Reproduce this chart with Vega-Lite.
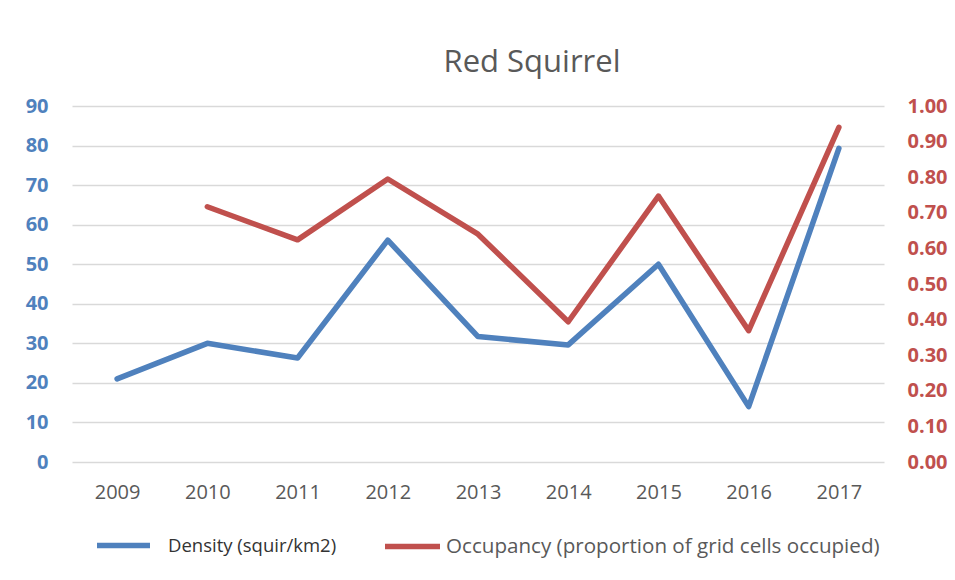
{
  "$schema": "https://vega.github.io/schema/vega-lite/v6.json",
  "autosize": "none",
  "width": 812,
  "height": 356,
  "padding": {"left": 72, "top": 106, "right": 71, "bottom": 118},
  "background": "white",
  "config": {
    "view": {"stroke": null},
    "font": "Open Sans"
  },
  "title": {
    "text": "Red Squirrel",
    "font": "Open Sans",
    "fontSize": 31,
    "fontWeight": "normal",
    "color": "#595959",
    "anchor": "middle",
    "dx": 54,
    "offset": 17
  },
  "data": {
    "values": [
      {"year": "2009", "density": 21.0, "occupancy": null},
      {"year": "2010", "density": 30.0, "occupancy": 0.717},
      {"year": "2011", "density": 26.3, "occupancy": 0.624},
      {"year": "2012", "density": 56.1, "occupancy": 0.795},
      {"year": "2013", "density": 31.7, "occupancy": 0.640},
      {"year": "2014", "density": 29.6, "occupancy": 0.394},
      {"year": "2015", "density": 50.0, "occupancy": 0.747},
      {"year": "2016", "density": 14.0, "occupancy": 0.369},
      {"year": "2017", "density": 79.3, "occupancy": 0.940}
    ]
  },
  "encoding": {
    "x": {
      "field": "year",
      "type": "ordinal",
      "scale": {"type": "point", "padding": 0.5},
      "axis": {
        "title": null,
        "labelAngle": 0,
        "labelFontSize": 20,
        "labelColor": "#595959",
        "labelFont": "Open Sans",
        "labelPadding": 20,
        "ticks": false,
        "tickSize": 0,
        "domain": false,
        "grid": false
      }
    }
  },
  "layer": [
    {
      "mark": {"type": "line", "strokeWidth": 5.5, "strokeCap": "round", "strokeJoin": "round"},
      "encoding": {
        "y": {
          "field": "density",
          "type": "quantitative",
          "scale": {"domain": [0, 90], "nice": false},
          "axis": {
            "title": null,
            "orient": "left",
            "values": [0, 10, 20, 30, 40, 50, 60, 70, 80, 90],
            "labelFontSize": 20,
            "labelFontWeight": "bold",
            "labelColor": "#4F81BD",
            "labelPadding": 24,
            "ticks": false,
            "tickSize": 0,
            "domain": false,
            "grid": true,
            "gridColor": "#D9D9D9",
            "gridWidth": 1.5
          }
        },
        "color": {
          "datum": "Density (squir/km2)",
          "scale": {"domain": ["Density (squir/km2)"], "range": ["#4F81BD"]},
          "legend": {
            "title": null,
            "orient": "none",
            "legendX": 22,
            "legendY": 410,
            "padding": 0,
            "symbolType": "stroke",
            "symbolSize": 2809,
            "symbolStrokeWidth": 5.5,
            "labelOffset": 15,
            "labelFontSize": 18.5,
            "labelColor": "#333333",
            "labelFont": "Open Sans",
            "labelLimit": 600
          }
        }
      }
    },
    {
      "mark": {"type": "line", "strokeWidth": 5.5, "strokeCap": "round", "strokeJoin": "round"},
      "encoding": {
        "y": {
          "field": "occupancy",
          "type": "quantitative",
          "scale": {"domain": [0, 1], "nice": false},
          "axis": {
            "title": null,
            "orient": "right",
            "values": [0, 0.1, 0.2, 0.3, 0.4, 0.5, 0.6, 0.7, 0.8, 0.9, 1.0],
            "format": ".2f",
            "labelFontSize": 20,
            "labelFontWeight": "bold",
            "labelColor": "#C0504D",
            "labelPadding": 23,
            "ticks": false,
            "tickSize": 0,
            "domain": false,
            "grid": false
          }
        },
        "color": {
          "datum": "Occupancy (proportion of grid cells occupied)",
          "scale": {"domain": ["Occupancy (proportion of grid cells occupied)"], "range": ["#C0504D"]},
          "legend": {
            "title": null,
            "orient": "none",
            "legendX": 310,
            "legendY": 410,
            "padding": 0,
            "symbolType": "stroke",
            "symbolSize": 3025,
            "symbolStrokeWidth": 5.5,
            "labelOffset": 3,
            "labelFontSize": 20.6,
            "labelColor": "#595959",
            "labelFont": "Open Sans",
            "labelLimit": 600
          }
        }
      }
    }
  ],
  "resolve": {
    "scale": {"y": "independent", "color": "independent"},
    "legend": {"color": "independent"}
  }
}
